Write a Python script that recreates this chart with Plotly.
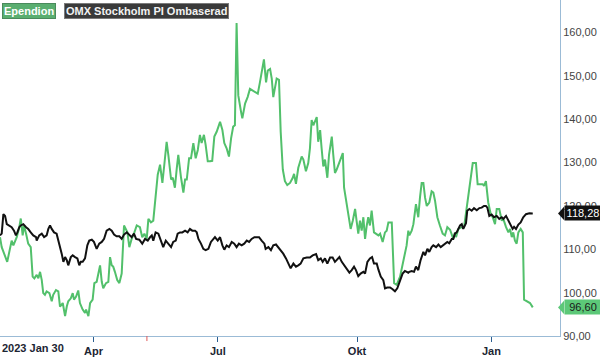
import plotly.graph_objects as go

# ---------------- data (x = trading-day index from 2023 Jan 30) ----------------
ependion_day = [0, 0.8, 3.4, 5.5, 6.3, 7.9, 9.1, 9.8, 10.7, 11.3, 12.3, 13.3, 14.5, 15.4, 16.2, 17.3, 18.1, 18.9,
                19.7, 20.4, 21.2, 22.0, 23.3, 24.4, 25.1, 26.4, 27.5, 28.3, 29.6, 30.7, 31.5, 32.2, 33.4, 34.3, 34.9,
                35.9, 36.9, 37.7, 39.0, 40.1, 40.6, 41.7, 42.5, 43.7, 44.5, 45.6, 47.2, 48.0, 48.7, 50.0, 51.1, 51.9,
                52.7, 53.4, 54.2, 55.3, 56.3, 57.4, 58.5, 59.4, 60.1, 61.0, 62.1, 63.2, 64.5, 66.0, 67.1, 68.1, 69.2,
                70.0, 71.2, 72.3, 73.4, 74.4, 75.5, 76.6, 77.5, 78.6, 79.4, 80.7, 81.5, 82.5, 83.4, 84.1, 85.4, 86.5,
                87.3, 88.1, 89.2, 90.1, 91.2, 92.3, 93.3, 94.3, 95.1, 96.2, 97.0, 98.0, 99.1, 100.1, 101.1, 102.2,
                103.8, 104.9, 105.8, 106.9, 108.0, 109.0, 110.0, 110.8, 111.6, 112.4, 113.7, 114.3, 115.6, 116.8,
                117.9, 119.5, 121.6, 122.6, 123.4, 124.5, 125.5, 126.3, 127.4, 128.2, 128.9, 129.7, 130.5, 131.6,
                132.4, 133.4, 134.4, 135.5, 136.8, 138.1, 138.7, 139.6, 140.7, 142.3, 143.1, 144.3, 145.4, 146.2,
                147.0, 147.8, 148.6, 149.4, 150.1, 151.0, 151.7, 152.5, 153.3, 154.4, 155.2, 156.5, 157.2, 158.0,
                158.8, 160.4, 161.7, 162.3, 163.5, 165.4, 166.4, 167.5, 168.3, 169.0, 169.8, 170.6, 171.4, 172.2,
                173.0, 173.7, 174.5, 175.3, 176.4, 177.4, 178.5, 179.3, 180.5, 181.6, 182.4, 183.2, 184.8, 185.9,
                187.1, 188.7, 190.2, 191.8, 192.6, 193.1, 194.2, 195.0, 196.2, 197.3, 198.1, 198.9, 199.7, 200.5,
                201.3, 202.5, 203.6, 204.4, 205.2, 206.3, 207.5, 208.8, 209.9, 211.0, 212.3, 213.1, 213.8, 214.6,
                215.1, 216.2, 217.8, 218.9, 219.8, 220.9, 222.0, 223.0, 224.5, 225.3, 226.4, 227.7, 228.3, 229.2,
                230.3, 231.5, 232.4, 233.5, 234.3, 235.5, 236.7, 237.4, 238.7, 239.8, 240.6, 241.4, 242.1, 242.9,
                243.7, 244.5, 245.6, 246.6, 247.2, 248.5, 250.0, 251.3]
ependion_val = [112.8, 110.5, 107.1, 112.0, 110.9, 112.8, 115.1, 117.1, 113.2, 115.5, 113.6, 111.3, 110.5, 103.7,
                103.3, 104.1, 103.3, 104.8, 102.9, 99.9, 99.5, 100.3, 99.9, 98.0, 99.5, 100.6, 100.3, 96.8, 97.6,
                94.6, 96.8, 98.0, 98.7, 99.9, 98.4, 99.1, 100.5, 97.6, 96.1, 95.3, 96.1, 94.6, 97.6, 98.4, 102.2,
                102.5, 106.3, 102.5, 101.0, 102.2, 102.5, 108.2, 106.3, 106.0, 104.8, 102.9, 102.2, 104.4, 115.5,
                114.7, 113.9, 110.5, 112.4, 113.6, 115.5, 115.1, 112.8, 113.6, 112.4, 117.0, 116.2, 116.6, 122.7,
                127.2, 129.5, 125.3, 129.5, 134.8, 131.8, 126.1, 126.5, 124.2, 128.8, 131.8, 126.5, 123.1, 126.1,
                126.1, 131.0, 131.0, 134.5, 131.0, 132.9, 136.4, 134.5, 136.4, 134.1, 130.3, 130.3, 130.4, 136.0,
                137.1, 139.4, 137.5, 134.5, 133.3, 131.4, 135.6, 138.3, 138.6, 162.2, 145.5, 141.7, 140.2, 143.6,
                145.1, 147.0, 146.6, 145.9, 148.5, 150.8, 153.8, 148.5, 151.2, 151.6, 149.3, 145.1, 147.8, 149.4,
                149.1, 137.1, 128.4, 125.7, 124.8, 125.3, 126.5, 127.4, 125.1, 128.8, 131.4, 130.7, 128.0, 129.9,
                133.3, 139.8, 138.6, 139.8, 140.5, 134.8, 137.5, 133.3, 129.1, 130.7, 126.5, 131.8, 136.0, 131.8,
                127.6, 128.4, 130.3, 132.2, 124.2, 120.4, 114.7, 116.6, 119.3, 116.2, 113.6, 116.6, 114.3, 117.4,
                112.4, 115.5, 117.4, 115.5, 118.9, 113.9, 113.6, 113.2, 113.6, 111.7, 113.9, 114.3, 116.2, 116.2,
                102.2, 101.8, 103.7, 107.5, 110.9, 114.3, 113.2, 114.3, 115.8, 120.4, 117.4, 121.9, 125.3, 125.3,
                121.9, 120.0, 120.8, 123.4, 123.1, 121.2, 117.4, 115.5, 113.6, 113.2, 115.1, 114.5, 113.2, 112.4,
                113.9, 112.8, 114.7, 115.1, 115.1, 118.5, 121.9, 126.5, 129.9, 129.9, 125.0, 125.0, 125.0, 124.6,
                125.7, 120.8, 118.1, 117.4, 115.8, 119.3, 119.3, 116.6, 117.0, 115.1, 113.9, 114.7, 112.8, 113.9,
                112.0, 111.3, 113.9, 114.7, 113.9, 98.4, 98.0, 97.6, 96.60]

omx_day = [0, 0.8, 1.6, 2.4, 3.2, 4.4, 5.5, 6.6, 7.5, 8.2, 9.1, 9.8, 11.0, 12.3, 13.3, 14.5, 15.7, 17.0, 17.3,
           18.5, 19.7, 20.8, 22.0, 22.8, 23.6, 24.4, 25.5, 26.7, 28.0, 29.1, 29.9, 30.7, 31.5, 32.2, 33.4, 34.3,
           35.4, 36.5, 37.4, 38.1, 39.0, 40.1, 41.2, 42.1, 43.3, 44.3, 45.6, 46.8, 48.0, 49.1, 50.3, 51.6, 52.7,
           53.8, 55.0, 56.3, 57.4, 58.5, 59.8, 61.0, 62.1, 63.2, 64.2, 65.7, 67.1, 68.4, 69.7, 70.8, 71.6, 72.3,
           73.4, 74.7, 75.9, 77.0, 78.2, 79.4, 80.7, 81.7, 82.9, 83.8, 84.9, 86.0, 87.3, 88.5, 89.6, 90.7, 92.0,
           92.8, 93.6, 94.8, 95.9, 97.0, 98.3, 99.5, 100.6, 101.4, 102.7, 103.8, 104.9, 105.8, 106.9, 108.0,
           109.3, 110.5, 111.6, 112.7, 114.0, 115.2, 116.4, 117.5, 118.7, 120.0, 121.1, 122.2, 123.4, 124.7,
           125.3, 126.6, 127.8, 128.9, 130.2, 131.3, 132.4, 133.6, 134.9, 136.0, 137.1, 138.4, 139.6, 140.7,
           141.8, 143.1, 144.7, 146.2, 147.5, 149.1, 150.1, 151.3, 152.2, 153.3, 154.4, 155.7, 156.9, 158.0,
           158.8, 160.1, 161.2, 162.3, 163.5, 164.8, 165.9, 167.0, 167.9, 169.0, 170.1, 171.4, 172.2, 173.3,
           174.5, 175.5, 176.4, 177.7, 178.5, 179.6, 180.8, 181.6, 182.7, 184.0, 185.2, 186.3, 187.4, 188.7,
           189.9, 191.0, 192.6, 193.1, 194.2, 195.3, 196.2, 197.3, 198.4, 199.7, 200.5, 201.6, 202.5, 203.6,
           204.4, 205.7, 206.8, 207.9, 208.8, 209.9, 211.0, 211.9, 213.1, 213.8, 214.6, 215.4, 216.2, 217.0,
           217.8, 218.5, 219.8, 220.4, 221.4, 222.5, 223.6, 224.9, 226.1, 227.2, 228.3, 229.2, 229.9, 230.8,
           231.9, 233.0, 234.3, 235.5, 236.7, 237.4, 238.7, 239.8, 240.6, 241.8, 242.5, 243.4, 244.5, 245.6,
           246.8, 248.1, 249.7, 251.3]
omx_val = [113.2, 113.6, 118.1, 117.7, 115.8, 115.5, 115.1, 114.3, 113.2, 113.9, 115.1, 115.5, 115.8, 115.1,
           114.7, 113.9, 113.2, 112.8, 112.0, 113.2, 113.6, 112.8, 113.2, 114.7, 115.5, 114.7, 113.9, 113.6,
           111.3, 109.0, 107.1, 108.2, 107.5, 106.3, 108.2, 108.6, 108.2, 107.9, 106.3, 107.1, 107.1, 107.9,
           110.9, 112.0, 112.2, 111.7, 110.1, 111.3, 111.7, 112.4, 114.3, 114.7, 114.3, 113.4, 113.0, 113.0,
           112.4, 113.4, 113.9, 113.4, 112.8, 113.6, 112.4, 112.2, 111.3, 112.4, 112.0, 112.8, 113.2, 112.0,
           113.9, 113.6, 112.0, 110.5, 112.0, 111.3, 110.5, 111.7, 112.0, 113.6, 113.9, 113.9, 114.3, 113.9,
           114.7, 114.3, 114.3, 113.9, 112.4, 111.3, 110.1, 109.8, 110.1, 111.7, 112.4, 112.8, 112.0, 112.8,
           110.9, 109.9, 110.9, 110.5, 111.7, 111.3, 110.5, 111.3, 110.9, 111.3, 112.0, 111.7, 112.4, 112.8,
           112.8, 112.8, 112.0, 111.3, 110.1, 110.5, 109.8, 110.9, 111.1, 110.5, 109.8, 109.0, 107.9, 106.7,
           105.6, 106.7, 106.0, 106.3, 106.7, 107.9, 108.1, 108.1, 108.6, 108.9, 107.5, 107.9, 107.1, 107.9,
           106.7, 108.1, 108.1, 107.1, 107.5, 108.2, 107.1, 106.3, 105.3, 104.6, 105.2, 106.0, 105.2, 103.8,
           104.4, 104.8, 104.4, 107.1, 107.9, 108.2, 106.7, 106.7, 105.3, 103.7, 102.9, 101.0, 101.2, 101.2,
           100.8, 100.3, 101.0, 102.9, 104.4, 105.0, 104.6, 104.8, 105.0, 104.8, 106.0, 105.2, 107.5, 109.4,
           108.6, 110.1, 109.4, 110.5, 110.9, 110.5, 111.1, 110.5, 110.9, 111.3, 111.7, 111.4, 112.4, 112.4,
           113.6, 113.9, 114.7, 115.5, 115.8, 114.7, 116.0, 118.9, 119.3, 118.9, 119.5, 119.0, 119.5, 119.6,
           120.0, 120.0, 119.6, 117.7, 118.0, 117.4, 117.7, 117.0, 117.4, 117.0, 117.7, 116.6, 115.8, 114.7,
           115.2, 114.7, 115.7, 116.2, 117.4, 118.1, 118.3, 118.28]

series_names = ["Ependion", "OMX Stockholm PI Ombaserad"]
x_tick_days = [44.1, 102.8, 168.4, 231.8]
x_tick_labels = ["Apr", "Jul", "Okt", "Jan"]
start_label = "2023 Jan 30"
marker_days = [69.3]
y_tick_vals = [90, 100, 110, 120, 130, 140, 150, 160]
y_tick_labels = ["90,00", "100,00", "110,00", "120,00", "130,00", "140,00", "150,00", "160,00"]
x_range = [0, 264.15]
y_range = [90, 167.5]

GREEN = "#52c06b"
BLACK = "#111111"
AXIS = "#9bbbd6"
FONT = "Liberation Sans, Arial, sans-serif"

fig = go.Figure()
fig.add_trace(go.Scatter(x=ependion_day, y=ependion_val, mode="lines", name=series_names[0],
                         line=dict(color=GREEN, width=2)))
fig.add_trace(go.Scatter(x=omx_day, y=omx_val, mode="lines", name=series_names[1],
                         line=dict(color=BLACK, width=2)))

def fmt(v):
    return f"{v:.2f}".replace(".", ",")

annotations = []
shapes = []

# legend boxes
annotations.append(dict(xref="paper", yref="paper", x=0, y=1, xanchor="left", yanchor="top",
                        xshift=2, yshift=-3, showarrow=False, text="<b>" + series_names[0] + "</b>",
                        font=dict(family=FONT, size=11, color="white"), bgcolor="#5aae70",
                        bordercolor="#4a8a5c", borderwidth=1, borderpad=1))
annotations.append(dict(xref="paper", yref="paper", x=0, y=1, xanchor="left", yanchor="top",
                        xshift=64, yshift=-3, showarrow=False, text="<b>" + series_names[1] + "</b>",
                        font=dict(family=FONT, size=11, color="#f2f2f2"), bgcolor="#3a3a3a",
                        bordercolor="#7a7a7a", borderwidth=1, borderpad=1))

# start date label
annotations.append(dict(xref="x", yref="paper", x=x_range[0], y=0, xanchor="left", yanchor="top",
                        yshift=-4, showarrow=False, text="<b>" + start_label + "</b>",
                        font=dict(family=FONT, size=11, color="#1c2533")))

# last value tags
for vals, bg, fg in [(omx_val, "#111111", "white"), (ependion_val, "#5cc878", "#1a1a1a")]:
    last = vals[-1]
    annotations.append(dict(xref="paper", yref="y", x=1, y=last, xanchor="left", yanchor="middle",
                            xshift=4, showarrow=False, text=fmt(last), width=34,
                            font=dict(family=FONT, size=11, color=fg), bgcolor=bg, borderpad=1))
    shapes.append(dict(type="path", xref="paper", yref="y",
                       path=f"M 0.9965 {last} L 1.0075 {last + 1.6} L 1.0075 {last - 1.6} Z",
                       fillcolor=bg, line=dict(width=0), layer="above"))

# red marker tick on time axis
for d in marker_days:
    shapes.append(dict(type="line", xref="x", yref="paper", x0=d, x1=d, y0=0, y1=-0.015,
                       line=dict(color="#e05a5a", width=1)))

fig.update_layout(
    width=600, height=357,
    margin=dict(l=0, r=40, t=0, b=17),
    plot_bgcolor="white", paper_bgcolor="white",
    showlegend=False,
    annotations=annotations, shapes=shapes,
    xaxis=dict(range=x_range, showgrid=False, zeroline=False, showline=True, linecolor=AXIS, linewidth=1,
               ticks="outside", ticklen=5, tickcolor="#2a5d8f", tickwidth=1,
               tickvals=x_tick_days, ticktext=["<b>" + t + "</b>" for t in x_tick_labels],
               tickfont=dict(family=FONT, size=11, color="#1c2533")),
    yaxis=dict(range=y_range, side="right", showgrid=False, zeroline=False, showline=True, linecolor=AXIS,
               linewidth=1, ticks="", tickvals=y_tick_vals, ticktext=y_tick_labels,
               tickfont=dict(family=FONT, size=11, color="#444444")),
)

fig.write_html("out.html")
